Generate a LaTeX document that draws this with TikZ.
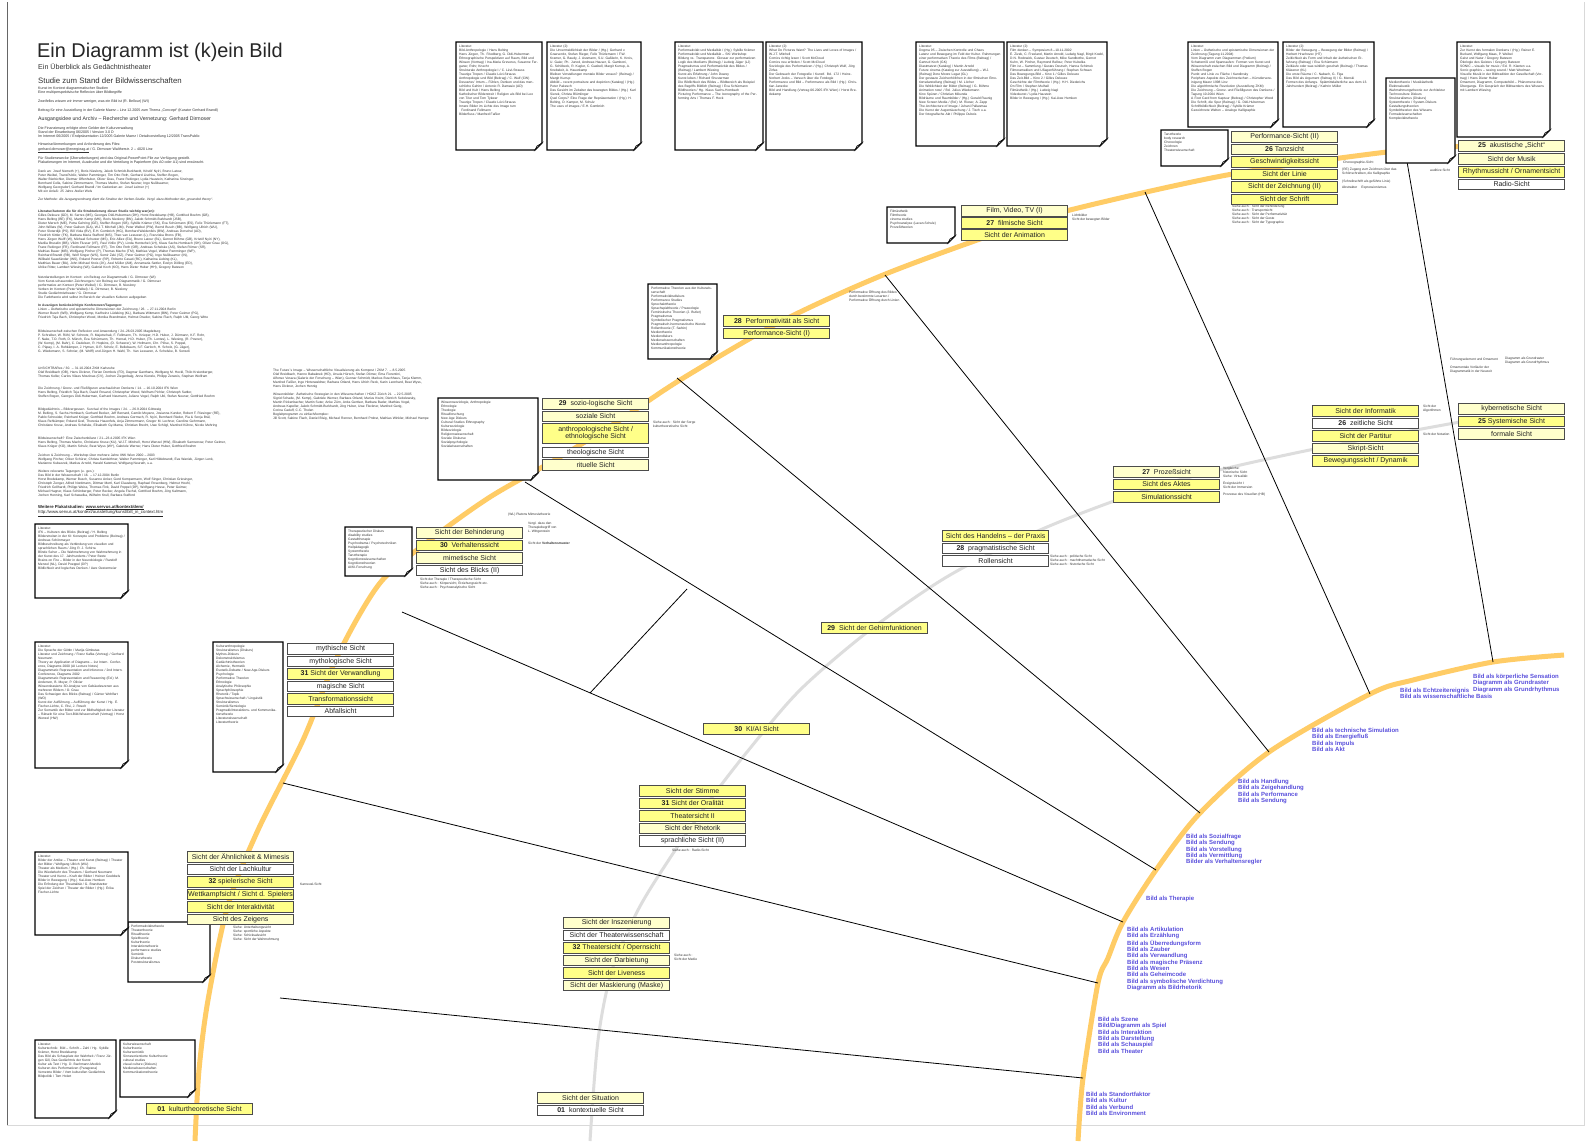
\documentclass[tikz,border=0pt]{standalone}
\usepackage{fontspec}
\setmainfont{Liberation Sans}
\definecolor{ybright}{HTML}{FFFF88}
\definecolor{ypale}{HTML}{FFFFCC}
\definecolor{orarc}{HTML}{FFCC66}
\definecolor{grarc}{HTML}{DDDDDD}
\definecolor{bluelab}{HTML}{5A50DC}
\definecolor{txt}{HTML}{222222}
\tikzset{
  vbox/.style={draw=black!70, line width=1.2pt, minimum width=106pt, minimum height=10.5pt,
    inner sep=0pt, font=\fontsize{7}{7}\selectfont, text=txt, anchor=north west},
  vb/.style={vbox, fill=ybright},
  vp/.style={vbox, fill=ypale},
  vw/.style={vbox, fill=white},
  blab/.style={font=\bfseries\fontsize{6}{6.3}\selectfont, text=bluelab, anchor=north west, inner sep=0pt, align=left},
  spoke/.style={line width=0.8pt, black},
  tiny/.style={font=\fontsize{3.3}{4}\selectfont, text=black!80, anchor=north west, inner sep=0pt, align=left},
  small/.style={font=\fontsize{3.6}{4.3}\selectfont, text=black!80, anchor=base west, inner sep=0pt},
}
\newcommand{\notebox}[6]{% name, x1, y1, x2, y2, text
  \fill[white] (#2,#3) -- (#4,#3) -- (#4,#5-7) -- (#4-7,#5) -- (#2,#5) -- cycle;
  \draw[line width=1.1pt] (#2,#3) -- (#4,#3) -- (#4,#5-7) -- (#4-7,#5) -- (#2,#5) -- cycle;
  \draw[line width=0.6pt, fill=black!15] (#4,#5-7) -- (#4-5,#5-4) -- (#4-7,#5) -- cycle;
  \node[tiny, text width=#4-#2-6] (#1) at (#2+3,#3+3) {#6};
}
\begin{document}
\begin{tikzpicture}[x=1pt,y=-1pt]
\useasboundingbox (0,0) rectangle (1586,1141);
\fill[white] (0,0) rectangle (1586,1141);
% frame
\draw[black!60, line width=0.6pt] (7,2) -- (7,1125);
\draw[black!15, line width=0.6pt] (7,1125) -- (1584,1125) -- (1584,2);

% ---------- arcs ----------
\draw[orarc, line width=5pt] plot[smooth] coordinates {(195,1141) (199,1070) (208,1000) (228,905) (258,830) (303,740) (338,655) (380,583) (430,540) (490,497) (560,457) (620,420) (680,380) (780,322) (883,275) (1000,232) (1070,210) (1227,175) (1387,152) (1470,146)};
\draw[orarc, line width=5pt] plot[smooth] coordinates {(1078,1141) (1083,1078) (1098,983) (1108,958) (1123,922) (1156,870) (1200,813) (1269,752) (1370,694) (1413,680) (1493,662) (1564,655)};
\draw[grarc, line width=3pt] plot[smooth] coordinates {(590,1141) (598,1040) (612,970) (638,910) (670,858) (710,800) (747,752) (800,690) (870,630) (950,575) (1047,527) (1165,484) (1300,452) (1460,422)};

% ---------- spokes ----------
\coordinate (dA) at (590,693);
\coordinate (eA) at (687,589);
\draw[spoke] (1145,192) -- (1370,694);
\draw[spoke] (885,275) -- (1269,752);
\draw[spoke] (1405,150) -- (1493,662);
\draw[spoke] (677,378) -- (1200,813);
\draw[spoke] (525,482) -- (1156,870);
\draw[spoke] (402,612) -- (1123,922);
\draw[spoke] (dA) -- (eA);
\draw[spoke] (283,783) -- (1098,983);
\draw[spoke] (280,998) -- (1083,1078);

% ---------- title block ----------
\node[anchor=north west, inner sep=0pt, font=\fontsize{19.9}{20}\selectfont, text=black!85] (title) at (37,43) {Ein Diagramm ist (k)ein Bild};
\node[anchor=north west, inner sep=0pt, font=\fontsize{7.1}{7}\selectfont, text=black!80] (subtitle) at (38,63) {Ein Überblick als Gedächtnistheater};
\node[anchor=north west, inner sep=0pt, font=\fontsize{7.8}{8}\selectfont, text=black!80] (studie) at (38,78) {Studie zum Stand der Bildwissenschaften};
\node[small] (t1) at (38,89) {Kunst im Kontext diagrammatischer Studien};
\node[small] (t2) at (38,93.5) {Eine multiperspektivische Reflexion über Bildbegriffe};
\node[small] (t3) at (38,102) {Zweifellos wissen wir immer weniger, was ein Bild ist (R. Bellour) (WI)};
\node[small] (t4) at (38,111) {Beitrag für eine Ausstellung in der Galerie Maerz – Linz 12.2005 zum Thema „Concept“ (Kurator Gerhard Brandl)};
\node[anchor=base west, inner sep=0pt, font=\fontsize{5.2}{5}\selectfont, text=black!80] (t5) at (38,120) {Ausgangsidee und Archiv – Recherche und Vernetzung: Gerhard Dirmoser};
\node[small] (t6) at (38,129) {Die Finanzierung erfolgte ohne Gelder der Kulturverwaltung};
\node[small] (t7) at (38,133) {Stand der Einarbeitung 06/2005 / Version 3.0 D};
\node[small] (t8) at (38,137) {Im Internet 06/2005 / Endpräsentation 12/2005 Galerie Maerz / Detailvorstellung 12/2005 TransPublic};
\node[small] (t9) at (38,145) {Hinweise/Anmerkungen und Anforderung des Files:};
\node[small] (t10) at (38,150) {\underline{gerhard.dirmoser@energieag.at} / G. Dirmoser Waltherstr. 2 – 4020 Linz};
\node[small] (t11) at (38,159) {Für Studienzwecke (Überarbeitungen) wird das Original-PowerPoint-File zur Verfügung gestellt.};
\node[small] (t12) at (38,163.5) {Plakatierungen im Internet, Ausdrucke und die Verteilung in Papierform (bis A0 oder A1) sind erwünscht.};
\node[tiny, text width=230pt] (dank) at (38,170) {Dank an: Josef Nemeth (+), Boris Nieslony, Jakob Schmidt-Burkhardt, Kristóf Nyíri, Bruno Latour,\\ Peter Weibel, TransPublic, Walter Pamminger, Tim Otto Roth, Gerhard Lischka, Steffen Bogen,\\ Walter Bierbichler, Dietmar Offenhuber, Oliver Grau, Franz Reitinger, Lydia Haustein, Katharina Sinzinger,\\ Bernhard Cella, Sabine Zimmermann, Thomas Macho, Stefan Neuner, Ingo Nußbaumer,\\ Wolfgang Georgsdorf, Gerhard Brandl / Im Gedenken an: Josef Leitner (+)\\ Mit ein Anlaß: 25 Jahre Atelier Wels};
\node[tiny] (methode) at (38,198) {\itshape Zur Methode: Als Ausgangsordnung dient die Struktur der Verben-Studie. Vergl. dazu Methoden der „grounded theory“.};
\node[tiny, text width=235pt] (lit) at (38,210) {\textbf{Literatur/Autoren die für die Strukturierung dieser Studie wichtig war(en):}\\ Gilles Deleuze (GD), M. Serres (MS), Georges Didi-Huberman (DH), Horst Bredekamp (HB), Gottfried Boehm (GB),\\ Hans Belting (BE) (FK), Martin Kemp (MK), Boris Nieslony (BN), Jakob Schmidt-Burkhardt (JSB),\\ Dieter Mersch (ME), Petra Gehring (GE), Steffen Bogen (SB), Sybille Krämer (SK), Eva Schürmann (ES), Felix Thürlemann (FT),\\ John Willats (W), Peter Galison (GA), W.J.T. Mitchell (JM), Peter Weibel (PW), Bernd Busch (BB), Wolfgang Ullrich (WU),\\ Peter Sloterdijk (PS), Bill Viola (BV), E.H. Gombrich (HG), Bernhard Waldenfels (BW), Andreas Dorschel (AD),\\ Friedrich Kittler (FK), Barbara Maria Stafford (MS), Theo van Leeuwen (L), Franziska Brons (FB),\\ Hans Jürgen Wulff (W), Michael Schuster (MS), Eric Alliez (EA), Bruno Latour (BL), Gernot Böhme (GB), Kristóf Nyíri (NY),\\ Marilia Bruselin (BB), Vilém Flusser (VF), Paul Virilio (PV), Linda Hentschel (LH), Klaus Sachs-Hombach (SH), Oliver Grau (OG),\\ Franz Reitinger (FR), Ferdinand Fellmann (FF), Tim Otto Roth (OR), Andreas Schelske (AS), Stefan Römer (SR),\\ Mathias Bauer (MB), Wolfgang Pircher (P), Thomas Macho (TM), Mathias Vogel, Walter Pamminger (WP),\\ Reinhard Brandt (RB), Wolf Singer (WS), Semir Zeki (SZ), Peter Geimer (PG), Ingo Nußbaumer (IN),\\ Wilibald Sauerländer (WS), Roland Posner (RP), Roberto Casati (RC), Katharina Liebing (KL),\\ Matthias Bauer (BA), John Michael Krois (JK), Axel Müller (AM), Annamaria Sattler, Evelyn Dölling (ED),\\ Ulrike Ritter, Lambert Wiesing (WI), Gabriel Koch (KO), Hans Dieter Huber (HH), Gregory Bateson};
\node[tiny, text width=235pt] (netz) at (38,276) {Netzdarstellungen im Kontext: ein Beitrag zur Diagrammatik / G. Dirmoser (WI)\\ Vom Kunst-schauenden Zeichnungen / ein Beitrag zur Diagrammatik / G. Dirmoser\\ performative art Kontext (Peter Weibel) / G. Dirmoser, B. Nieslony\\ Verben im Kontext (Peter Weibel) / G. Dirmoser, B. Nieslony\\ Studie Gedächtnistheater / G. Dirmoser\\ Die Farbtheorie wird selbst im Bereich der visuellen Kulturen aufgegeben};
\node[tiny, text width=235pt] (konf) at (38,304) {\textbf{In Auszügen berücksichtigte Konferenzen/Tagungen:}\\ Linien – Ästhetische und epistemische Dimensionen der Zeichnung / 26. – 27.11.2004 Berlin\\ Werner Busch (WB), Wolfgang Kemp, Karlheinz Lüdeking (KL), Barbara Wittmann (BW), Peter Geimer (PG),\\ Friedrich Teja Bach, Christopher Wood, Monika Brandmeier, Helmut Draxler, Sabine Flach, Ralph Ubl, Georg Witte};
\node[tiny, text width=235pt] (magd) at (38,330) {Bildwissenschaft zwischen Reflexion und Anwendung / 24.-26.03.2005 Magdeburg\\ P. Schreiber, W. Röhl, W. Schnotz, R. Majetschak, F. Fellmann, Th. Knieper, H.D. Huber, J. Dürmann, K.F. Rohr,\\ F. Nake, T.O. Roth, D. Münch, Eva Schürmann, Th. Hensel, H.D. Huber, (Th. Lentes), L. Wiesing, (R. Posner),\\ (W. Kemp), (M. Bahr), C. Dadelsen, R. Hopkins, (D. Scheerer), W. Hofmann, Chr. Plöse, S. Poppel,\\ C. Pápay, I. A. Rehkämper, J. Hyman, O.R. Scholz, E. Bellebaum, S.F. Gerloch, H. Scholz, (G. Jäger),\\ G. Wiedemann, S. Schnier, (M. Wolff) und Jürgen H. Wahl, Th. Van Leeuwen, A. Schelske, B. Sensoli};
\node[tiny, text width=235pt] (unsicht) at (38,367) {UnSICHTBARes / 30. – 31.10.2004 ZKM Karlsruhe\\ Olaf Breidbach (OB), Hans Dickner, Florian Dombois (FD), Dagmar Ganthans, Wolfgang M. Heckl, Thilo Kreienberger,\\ Thomas Keller, Carlos Vilaes Moutinas (CV), Jochen Ziegenbalg, Anna Kienzle, Philipp Zerweis, Stephan Wolfram};
\node[tiny, text width=235pt] (zeich) at (38,387) {Die Zeichnung / Grenz- und Fließfiguren anschaulichen Denkens / 14. – 16.10.2004 IFK Wien\\ Hans Belting, Friedrich Teja Bach, David Rosand, Christopher Wood, Wolfram Pichler, Christoph Sattler,\\ Steffen Bogen, Georges Didi-Huberman, Gerhard Neumann, Juliane Vogel, Ralph Ubl, Stefan Neuner, Gottfried Boehm};
\node[tiny, text width=235pt] (gedae) at (38,408) {Bildgedächtnis – Bildvergessen. Survival of the Images / 24. – 26.9.2004 Göttweig\\ M. Belting, S. Sachs-Hombach, Gerhard Becker, Jeff Bernard, Camilo Moyano, Josianna Kunder, Robert F. Riesinger (RE),\\ Pablo Schneider, Reinhard Krüger, Gottfried Boehm, Andreas Gormsch, R. Nyíri, Bernhard Rieder, Pia \& Sonja Bräl,\\ Klaus Rehkämper, Roland Graf, Theresia Hauenfels, Anja Zimmermann, Gregor M. Lechner, Caroline Gehrmann,\\ Christiane Kruse, Andreas Schelske, Elisabeth Gy-Mama, Christian Brecht, Uwe Schögl, Manfred Kühne, Nicole Mehring};
\node[tiny, text width=235pt] (zwisch) at (38,437) {Bildwissenschaft? Eine Zwischenbilanz / 21.–23.4.2005 IFK Wien\\ Hans Belting, Thomas Macho, Christiane Kruse (KU), W.J.T. Mitchell, Horst Wenzel (HW), Elisabeth Samsonow, Peter Geimer,\\ Klaus Krüger (KO), Martin Schulz, Beat Wyss (WY), Gabriele Werner, Hans Dieter Huber, Gottfried Boehm};
\node[tiny, text width=235pt] (iwk) at (38,454) {Zeichen \& Zeichnung – Workshop über mehrere Jahre IWK Wien 2000 – 2003\\ Wolfgang Pircher, Oliver Schürer, Christa Kamleithner, Walter Pamminger, Karl Hildebrandt, Eva Waniek, Jürgen Lenk,\\ Marianne Kubaczek, Markus Arnold, Harald Katzmair, Wolfgang Neurath, u.a.};
\node[tiny, text width=235pt] (weit) at (38,470) {Weitere relevante Tagungen (u. ges.):\\ Das Bild in der Wissenschaft / 16. – 17.12.2004 Berlin\\ Horst Bredekamp, Werner Busch, Susanne Anker, Gerd Kempermann, Wolf Singer, Christian Griesinger,\\ Christoph Zenger, Alfred Nordmann, Dittmar Mertl, Karl Clausberg, Raphael Rosenberg, Helmut Hoehl,\\ Friedrich Gollhardt, Philipp Weiss, Thomas Fink, David Poppel (DP), Wolfgang Hesse, Peter Geimer,\\ Michael Hagner, Klaus Schönberger, Peter Becker, Angela Fischel, Gottfried Boehm, Jörg Kaltmann,\\ Jochen Henning, Karl Schawelka, Wilhelm Krull, Barbara Stafford};
\node[anchor=base west, inner sep=0pt, font=\bfseries\fontsize{4.3}{5}\selectfont, text=black!85] (plak) at (38,508) {Weitere Plakatstudien: \underline{www.servus.at/kontext/dem/}};
\node[anchor=base west, inner sep=0pt, font=\fontsize{4.3}{5}\selectfont, text=black!85] (plak2) at (38,513.5) {\underline{http://www.servus.at/kontext/ausstellung/kunst/bilt\_in\_context.htm}};
\node[tiny, text width=200pt] (fut) at (273,369) {The Future´s Image – Wissenschaftliche Visualisierung als Kompost / ZKM 7. – 8.5.2005\\ Olaf Breidbach, Hanno Babaknek (HD), Ursula Hürsch, Stefan Dörner, Ema Fiorentini,\\ Alfonso Veraza (Galerie der Forschung – Wien), Gunnar Schmidt, Markus Buschhaus, Tanja Klemm,\\ Manfred Faßler, Inge Hinterwaldner, Barbara Orland, Hans Ulrich Reck, Karin Leonhard, Beat Wyss,\\ Hans Dickner, Jochen Hennig};
\node[tiny, text width=200pt] (wiss) at (273,393) {Wissensbilder: Ästhetische Strategien in den Wissenschaften / HGKZ Zürich 21. – 22.5.2005\\ Sigrid Schade, (M. Kemp), Gabriele Werner, Barbara Orland, Marius Kwint, Dietrich Seitelewsky,\\ Martin Rickenbacher, Martin Suter, Anke Zürn, Anita Gertiser, Barbara Bader, Mathias Vogel,\\ Andreas Kapeller, Jakob Schmidt-Burkhardt, Jörg Huber, Uwe Fleckner, Manfred Gerig,\\ Corina Caduff, C.C. Thelen\\ Begleitprogramm zu einfach/komplex:\\ Jill Scott, Sabine Flach, Daniel Bisig, Michael Renner, Bernhard Probst, Mathias Winkler, Michael Hampe};

% ---------- small labels in the fan ----------
\node[tiny] (r1) at (1232,205) {Siehe auch : Sicht der Behinderung\\ Siehe auch : Transportsicht\\ Siehe auch : Sicht der Performativität\\ Siehe auch : Sicht der Geste\\ Siehe auch : Sicht der Typographie};
\node[tiny] (r2) at (1343,161) {Choreographie-Sicht};
\node[tiny] (r3) at (1342,168) {(RE) Zugang zum Zeichnen über das\\ Schönschreiben, die Kalligraphie};
\node[tiny] (r4) at (1342,180) {(Schreibschrift als geführte Linie)};
\node[tiny] (r5) at (1342,186) {Abstrakter \quad Expressionismus};
\node[tiny] (r6) at (1430,169) {auditive Sicht};
\node[tiny] (r7) at (1423,405) {Sicht der\\ Algorithmen};
\node[tiny] (r8) at (1423,433) {Sicht der Notation};
\node[tiny] (r9) at (1450,358) {Führungselement und Ornament};
\node[tiny] (r10) at (1450,366) {Ornamentale Vorläufer der\\ Diagrammatik in der Neuzeit};
\node[tiny] (r11) at (1505,357) {Diagramm als Grundraster\\ Diagramm als Grundrhythmus};
\node[tiny] (r12) at (1223,467) {Vergleiche:\\ historische Sicht\\ Siehe: Virtualität};
\node[tiny] (r13) at (1223,482) {Ereignissicht I\\ Sicht der Immersion};
\node[tiny] (r14) at (1223,493) {Prozesse des Visuellen (HB)};
\node[tiny] (r15) at (1050,555) {Siehe auch : politische Sicht\\ Siehe auch : machtthematische Sicht\\ Siehe auch : historische Sicht};
\node[tiny] (r16) at (1072,214) {Lichtbilder\\ Sicht der bewegten Bilder};
\node[tiny] (r17) at (420,578) {Sicht der Therapie / Therapeutische Sicht\\ Siehe auch : Körpersicht, Erziehungssicht etc.\\ Siehe auch : Psychoanalytische Sicht};
\node[tiny] (r18) at (508,513) {(WL) Platons Mimesistheorie};
\node[tiny] (r19) at (528,522) {Vergl. dazu den\\ Therapiebegriff von\\ L. Wittgenstein};
\node[tiny] (r20) at (528,542) {Sicht der \textbf{Verhaltensmuster}};
\node[tiny] (r21) at (653,421) {Siehe auch : Sicht der Sorge\\ kulturtheoretische Sicht};
\node[tiny] (r22) at (849,291) {Performative Öffnung des Bildes\\ durch bestimmte Lesarten /\\ Performative Öffnung durch Linien};
\node[tiny] (r23) at (233,926) {Siehe: Unterhaltungssicht\\ Siehe: sportliche Aspekte\\ Siehe: Schicksalssicht\\ Siehe: Sicht der Wahrnehmung};
\node[tiny] (r24) at (300,883) {Karneval-Sicht};
\node[tiny] (r25) at (672,849) {Siehe auch : Radio-Sicht};
\node[tiny] (r26) at (674,954) {Siehe auch :\\ Sicht der Medie};

% ---------- literature notes, top row ----------
\notebox{litA}{456}{42}{542}{150}{Literatur:\\ Bild-Anthropologie / Hans Belting\\ Hans Jürgen, Th. Friedberg, G. Didi-Huberman\\ Ethnographische Perspektiven auf Raum, Bild und Wissen (Vortrag) / Ina-Maria Greverus, Susanne Ferganer, Rohr, Knecht\\ Strukturale Anthropologie I / C. Lévi-Strauss\\ Traurige Tropen / Claude Lévi-Strauss\\ Anthropologie und Bild (Beitrag) / C. Wulf (CW)\\ Descartes' Irrtum – Fühlen, Denken und das menschliche Gehirn / Antonio R. Damasio (AD)\\ Bild und Kult / Hans Belting\\ Katholischer Bilderstreit / Religion als Bild bei Leo von Trier und Tom Tykwer\\ Traurige Tropen / Claude Lévi-Strauss\\ Innere Bilder im Lichte des Image turn\\ \ \ Ferdinand Fellmann\\ Bilderfluss / Manfred Faßler}
\notebox{litB}{547}{42}{641}{150}{Literatur (2):\\ Die Unvermeidlichkeit der Bilder / (Hg.) Gerhard v. Graevenitz, Stefan Rieger, Felix Thürlemann / F.W. Kramer, G. Baudy, J. Assmann, S.U. Gaßlerin, K. Krois, U. Gaier, Ph. Junod, Andreas Hauser, G. Gamboni, G. Schöbeck, R. Kugler, C. Gasbell, Margit Kurrup, A. Knebeleit, A. Hauerkamp\\ Bleiben Vorstellungen mentale Bilder voraus? (Beitrag) / Margit Kurrup\\ Abbild – recent portraiture and depiction (Katalog) / (Hg.) Peter Pakesch\\ Das Gesicht im Zeitalter des bewegten Bildes / (Hg.) Karl Sierek, Christa Blümlinger\\ Quel Corps? Eine Frage der Repräsentation / (Hg.) H. Belting, D. Kamper, M. Schulz\\ The uses of images / E.H. Gombrich}
\notebox{litC}{675}{42}{763}{150}{Literatur:\\ Performativität und Medialität / (Hg.) Sybille Krämer\\ Performativität und Medialität – SKI Workshop\\ Bildung vs. Transparenz. Glossar zur performativen Logik des Mediums (Beitrag) / Ludwig Jäger (LJ)\\ Pragmatismus und Performativität des Bildes / (Beitrag) / Lambert Wiesing\\ Kunst als Erfahrung / John Dewey\\ Kunst leben / Richard Shusterman\\ Die Bildlichkeit des Bildes – Bildbereich als Beispiel des Begriffs Bildlich (Beitrag) / Eva Schürmann\\ Bildtheorien / Hg. Klaus Sachs-Hombach\\ Picturing Performance – The Iconography of the Performing Arts / Thomas F. Heck}
\notebox{litD}{766}{42}{862}{150}{Literatur (2):\\ What Do Pictures Want? The Lives and Loves of Images / W.J.T. Mitchell\\ Comics richtig lesen / Scott McCloud\\ Comics neu erfinden / Scott McCloud\\ Soziologie des Performativen / (Hg.) Christoph Wulf, Jörg Zirfas\\ Der Gebrauch der Fotografie / Kunstf. Bd. 172 / Heinz-Norbert Jocks – Versuch über die Fotologie\\ Performance und Bild – Performance als Bild / (Hg.) Christian Janecke\\ Bild und Handlung (Vortrag 06.2005 IFK Wien) / Horst Bredekamp}
\notebox{litE}{916}{42}{1004}{146}{Literatur:\\ Dogma 95 – Zwischen Kontrolle und Chaos\\ Latenz und Bewegung im Feld der Kultur. Rahmungen einer performativen Theorie des Films (Beitrag) / Gertrud Koch (GK)\\ Diastmatzet (Katalog) / Martin Arnold\\ Future cinema (Katalog zur Ausstellung) – W.J. (Beitrag) Dore Moore Legat (GL)\\ Der gestaute Zeichenhöfchen in der filmischen Emotionsdarstellung (Beitrag) / M. Löcher\\ Die Wirklichkeit der Bilder (Beitrag) / G. Böhme\\ Animation now! / Bd. Julius Wiedemann\\ Kino Spüren / Christian Mikunda\\ Bildräume und Raumbilder / (Hg.) Gerald Raunig\\ New Screen Media / (Bd.) M. Rieser, A. Zapp\\ The Architecture of Image / Juhani Pallasmaa\\ Die Kunst der Augentäuschung / J. Tisch u.a.\\ Der fotografische Akt / Philippe Dubois}
\notebox{litF}{1007}{42}{1107}{146}{Literatur (2):\\ Film denken – Symposium 8.–10.11.2002\\ E. Zizek, C. Freeland, Martin Arnold, Ludwig Nagl, Birgit Koebl, D.N. Rodowick, Gustav Deutsch, Mike Sandbothe, Gernot Kuhn, W. Pircher, Raymond Bellour, Peter Kubelka\\ Film ist – Sammlung / Gustav Deutsch, Hanna Schimek\\ Filmoramatiken und Ußagenführung / Stephan Schwan\\ Das Bewegungs-Bild – Kino 1 / Gilles Deleuze\\ Das Zeit-Bild – Kino 2 / Gilles Deleuze\\ Geschichte der Filmtheorie / (Hg.) H.H. Diederichs\\ On Film / Stephen Mulhall\\ Filmästhetik / (Hg.) Ludwig Nagl\\ Videokunst / Lydia Haustein\\ Bilder in Bewegung / (Hg.) Kai-Uwe Hemken}
\notebox{litG}{1188}{42}{1278}{127}{Literatur:\\ Linien – Ästhetische und epistemische Dimensionen der Zeichnung (Tagung 11.2004)\\ Vom Diagramm zum Diagrammen (Podium)\\ Schattenriß und Spannaufen: Formen von Kunst und Wissenschaft zwischen Bild und Diagramm (Beitrag) / Steffen Bogen\\ Punkt und Linie zu Fläche / Kandinsky\\ Periphere Aspekte des Zeichnerischen – Künstlervereinigung Maerz 1998 Linz\\ Die algorithmische Revolution (Ausstellung ZKM)\\ Die Zeichnung – Grenz- und Fließfiguren des Denkens / Tagung 10.2004 Wien\\ A Foot Card from Kaptuur (Beitrag) / Christopher Wood\\ Die Schrift, die Spur (Beitrag) / G. Didi-Huberman\\ Schriftbildlichkeit (Beitrag) / Sybille Krämer\\ Gezeichnete Welten – Analoge Kalligraphie}
\notebox{litH}{1283}{42}{1374}{127}{Literatur (2):\\ Bilder der Bewegung – Bewegung der Bilder (Beitrag) / Herbert Hrachovec (HT)\\ Zeitlichkeit als Form und Inhalt der ästhetischen Erfahrung (Beitrag) / Eva Schürmann\\ Zeitläufe oder was wirklich geschah (Beitrag) / Thomas Kläsener (KL)\\ Die erste Räume / C. Nabach, G. Figa\\ Das Bild als Argument (Beitrag II) / G. Menski\\ Formen des Anfangs. Spätmittelalterliche aus dem 13. Jahrhundert (Beitrag) / Kathrin Müller}
\notebox{litI}{1457}{42}{1550}{137}{Literatur:\\ Zur Kunst des formalen Denkens / (Hg.) Rainer E. Burkard, Wolfgang Maas, P. Weibel\\ Geist und Natur / Gregory Bateson\\ Ökologie des Geistes / Gregory Bateson\\ SONIC – visuals for music / Ed. R. Klanten u.a.\\ Sonic graphics – seeing sound / Matt Woolman\\ Visuelle Musik in der Bildtradition der Gesellschaft (Vortrag) / Hans Dieter Huber\\ Ornament, Diagramm, Computerbild – Phänomene des Übergangs. Ein Gespräch der Bildwerdens des Wissens mit Lambert Wiesing}

% ---------- discipline notes ----------
\notebox{nTanz}{1161}{130}{1228}{166}{Tanztheorie\\ body research\\ Choreologie\\ Zeichnen\\ Theaterwissenschaft}
\notebox{nAkust}{1386}{78}{1455}{163}{Medientheorie / Musikästhetik\\ Elektroakustik\\ Wahrnehmungstheorie zur Architektur\\ Technoculture Diskurs\\ Strukturalismus (Diskurs)\\ Systemtheorie / System-Diskurs\\ Gestaltungstheorien\\ Symboltheorien des Wissens\\ Formalwissenschaften\\ Komplexitätstheorie}
\notebox{nFilm}{887}{207}{955}{243}{Filmästhetik\\ Filmtheorie\\ cinema studies\\ Psychoanalyse (Lacan-Schule)\\ Prozeßtheorien}
\notebox{nPerf}{648}{284}{717}{359}{Performative Theorien aus der Kulturwissenschaft\\ Performativitätsdiskurs\\ Performance Studies\\ Sprechakttheorie\\ Sprachspieltheorie / Praxeologie\\ Feministische Theorien (J. Butler)\\ Pragmatismus\\ Symbolischer Pragmatismus\\ Pragmatisch-hermeneutische Wende\\ Rollentheorie (T. Sarbin)\\ Medientheorie\\ Mediendiskurs\\ Medienwissenschaften\\ Medienanthropologie\\ Kommunikationstheorie}
\notebox{nSozio}{438}{398}{538}{480}{Wissenssoziologie, Anthropologie\\ Ethnologie\\ Theologie\\ Ritualforschung\\ New Age Diskurs\\ Cultural Studies Ethnography\\ Kultursoziologie\\ Bildsoziologie\\ Religionswissenschaft\\ Soziale Diskurse\\ Sozialpsychologie\\ Sozialwissenschaften}
\notebox{nBehind}{345}{527}{412}{576}{Therapeutischer Diskurs\\ disability studies\\ Gestalttherapie\\ Psychodrama / Psychotechniken\\ Heilpädagogik\\ Systemtheorie\\ Tanztherapie\\ Kognitionswissenschaften\\ Kognitionstheorien\\ AI/KI-Forschung}
\notebox{nMyth}{213}{642}{283}{772}{Kulturanthropologie\\ Strukturalismus (Diskurs)\\ Mythos-Diskurs\\ Dekonstruktivismus\\ Gedächtnistheorien\\ Alchemie, Hermetik\\ Esoterik-Debatte / New-Age-Diskurs\\ Psychologie\\ Performative Theorien\\ Ethnologie\\ Analytische Philosophie\\ Sprachphilosophie\\ Rhetorik / Topik\\ Sprachwissenschaft / Linguistik\\ Strukturalismus\\ Semiotik/Semiologie\\ Pragmatik/Interaktions- und Kommunikationstheorie\\ Literaturwissenschaft\\ Literaturtheorie}
\notebox{nAehn}{128}{922}{210}{982}{Performativitätstheorie\\ Theatertheorie\\ Ritualtheorie\\ Spieltheorie\\ Kulturtheorie\\ Interaktionstheorie\\ performance studies\\ Semiotik\\ Diskurstheorie\\ Poststrukturalismus}
\notebox{nKult}{120}{1040}{195}{1097}{Kulturwissenschaft\\ Kulturtheorie\\ Kultursemiotik\\ Sinnesorientierte Kulturtheorie\\ cultural studies\\ visual culture (Diskurs)\\ Medienwissenschaften\\ Kommunikationstheorie}

% ---------- literature notes, left column ----------
\notebox{litL1}{35}{524}{128}{598}{Literatur:\\ IFK – Kulturen des Blicks (Beitrag) / H. Belting\\ Bilderstreiten in der KI: Konzepte und Probleme (Beitrag) / Andreas Schönmayer\\ Bildbeschreibung als Verbindung von visuellen und sprachlichen Raum / Jörg R. J. Schirra\\ Blinde Seher – Die Wahrnehmung von Wahrnehmung in der Kunst des 17. Jahrhunderts / Peter Bexte\\ Brains on Fire – Bilder in der Neurobiologie / Randolf Menzel (NL), David Poeppel (DP)\\ Bildlichkeit und logisches Denken / Uwe Oestermeier}
\notebox{litL2}{35}{642}{128}{768}{Literatur:\\ Die Sprache der Göttin / Marija Gimbutas\\ Literatur und Zeichnung / Franz Kafka (Vortrag) / Gerhard Neumann\\ Theory an Application of Diagrams – 1st Intern. Conference, Diagrams 2000 (AI Lecture Notes)\\ Diagrammatic Representation and Inference / 2nd Intern. Conference, Diagrams 2002\\ Diagrammatic Representation and Reasoning (Ed.) M. Anderson, B. Meyer, P. Olivier\\ Wissensbasierte 3D-Analyse von Gebäudeszenen aus mehreren Bildern / O. Grau\\ Das Schweigen des Blicks (Beitrag) / Günter Wohlfart (WO)\\ Kunst der Aufführung – Aufführung der Kunst / Hg. E. Fischer-Lichte, C. Risi, J. Roselt\\ Zur Semantik der Bilder und zur Bildhaftigkeit der Literatur – Rätseln für eine Text-Bild-Wissenschaft (Vortrag) / Horst Wenzel (HW)}
\notebox{litL3}{35}{852}{128}{935}{Literatur:\\ Bilder der Antike – Theater und Kunst (Beitrag) / Theater der Bilder / Wolfgang Ullrich (WU)\\ Theater als Medium / (Hg.) Ch. Balme\\ Die Wiederkehr des Theaters / Gerhard Neumann\\ Theater und Kunst – Kraft der Bilder / Heiner Goebbels\\ Bilder in Bewegung / (Hg.) Kai-Uwe Hemken\\ Die Erfindung der Theatralität / G. Brandstetter\\ Spiel der Zeichen / Theater der Bilder / (Hg.) Erika Fischer-Lichte}
\notebox{litL4}{35}{1040}{116}{1118}{Literatur:\\ Kulturtechnik: Bild – Schrift – Zahl / Hg. Sybille Krämer, Horst Bredekamp\\ Das Bild als Schauplatz der Wahrheit / Franz Jürgen Gill, Das Gedächtnis der Kunst\\ Kultur als Text / Hg. D. Bachmann-Medick\\ Kulturen des Performativen (Paragrana)\\ Vernetzte Bilder / Vom kulturellen Gedächtnis\\ Bildpolitik / Tom Holert}

% ---------- view stacks ----------
\node[vp] (s25a) at (1458,140) {\textbf{25}\ \ akustische „Sicht“};
\node[vp] (s25b) at (1458,153) {Sicht der Musik};
\node[vb] (s25c) at (1458,166) {Rhythmussicht / Ornamentsicht};
\node[vw] (s25d) at (1458,178.5) {Radio-Sicht};
\node[vp] (s26a) at (1231,131) {Performance-Sicht (II)};
\node[vp] (s26b) at (1231,143.5) {\textbf{26}\ Tanzsicht};
\node[vb] (s26c) at (1231,156) {Geschwindigkeitssicht};
\node[vb] (s26d) at (1231,168.5) {Sicht der Linie};
\node[vb] (s26e) at (1231,181) {Sicht der Zeichnung (II)};
\node[vb] (s26f) at (1231,193.5) {Sicht der Schrift};
\node[vp] (s27a) at (961,205) {Film, Video, TV (I)};
\node[vb] (s27b) at (961,217) {\textbf{27}\ \ filmische Sicht};
\node[vb] (s27c) at (961,229) {Sicht der Animation};
\node[vb] (s28a) at (723,315) {\textbf{28}\ \ Performativität als Sicht};
\node[vb] (s28b) at (723,327.5) {Performance-Sicht (I)};
\node[vp] (s29a) at (542,398) {\textbf{29}\ \ sozio-logische Sicht};
\node[vp] (s29b) at (542,410.5) {soziale Sicht};
\node[vb, minimum height=20pt, align=center] (s29c) at (542,423) {anthropologische Sicht /\\ethnologische Sicht};
\node[vw] (s29d) at (542,446.5) {theologische Sicht};
\node[vp] (s29e) at (542,459) {rituelle Sicht};
\node[vp] (s30a) at (416,527) {Sicht der Behinderung};
\node[vb] (s30b) at (416,539.5) {\textbf{30}\ \ Verhaltenssicht};
\node[vp] (s30c) at (416,552) {mimetische Sicht};
\node[vw] (s30d) at (416,564.5) {Sicht des Blicks (II)};
\node[vw] (s31a) at (287,643) {mythische Sicht};
\node[vw] (s31b) at (287,655.5) {mythologische Sicht};
\node[vb] (s31c) at (287,668) {\textbf{31} Sicht der Verwandlung};
\node[vw] (s31d) at (287,680.5) {magische Sicht};
\node[vb] (s31e) at (287,693) {Transformationssicht};
\node[vw] (s31f) at (287,705.5) {Abfallsicht};
\node[vp] (s32a) at (187,851) {Sicht der Ähnlichkeit \& Mimesis};
\node[vw] (s32b) at (187,863.5) {Sicht der Lachkultur};
\node[vb] (s32c) at (187,876) {\textbf{32} spielerische Sicht};
\node[vb] (s32d) at (187,888.5) {Wettkampfsicht / Sicht d. Spielers};
\node[vb] (s32e) at (187,901) {Sicht der Interaktivität};
\node[vp] (s32f) at (187,913.5) {Sicht des Zeigens};
\node[vb] (s01a) at (146,1103) {\textbf{01}\ \ kulturtheoretische Sicht};
\node[vp] (s01b) at (537,1092) {Sicht der Situation};
\node[vw] (s01c) at (537,1104.5) {\textbf{01}\ \ kontextuelle Sicht};
\node[vp] (s32Ta) at (563,917) {Sicht der Inszenierung};
\node[vw] (s32Tb) at (563,929.5) {Sicht der Theaterwissenschaft};
\node[vb] (s32Tc) at (563,942) {\textbf{32}\ Theatersicht / Opernsicht};
\node[vp] (s32Td) at (563,954.5) {Sicht der Darbietung};
\node[vb] (s32Te) at (563,967) {Sicht der Liveness};
\node[vp] (s32Tf) at (563,979.5) {Sicht der Maskierung (Maske)};
\node[vb] (s31Oa) at (639,785) {Sicht der Stimme};
\node[vb] (s31Ob) at (639,797.5) {\textbf{31} Sicht der Oralität};
\node[vb] (s31Oc) at (639,810) {Theatersicht II};
\node[vp] (s31Od) at (639,822.5) {Sicht der Rhetorik};
\node[vw] (s31Oe) at (639,835) {sprachliche Sicht (II)};
\node[vb] (s30K) at (703,723) {\textbf{30}\ \ KI/AI Sicht};
\node[vb] (s29G) at (821,622) {\textbf{29}\ \ Sicht der Gehirnfunktionen};
\node[vb] (s28Pa) at (942,530) {Sicht des Handelns – der Praxis};
\node[vw] (s28Pb) at (942,542.5) {\textbf{28}\ \ pragmatistische Sicht};
\node[vw] (s28Pc) at (942,555) {Rollensicht};
\node[vp] (s27Pa) at (1113,466) {\textbf{27}\ \ Prozeßsicht};
\node[vb] (s27Pb) at (1113,478.5) {Sicht des Aktes};
\node[vb] (s27Pc) at (1113,491) {Simulationssicht};
\node[vb] (s26Za) at (1312,405) {Sicht der Informatik};
\node[vw] (s26Zb) at (1312,417.5) {\textbf{26}\ \ zeitliche Sicht};
\node[vb] (s26Zc) at (1312,430) {Sicht der Partitur};
\node[vp] (s26Zd) at (1312,442.5) {Skript-Sicht};
\node[vb] (s26Ze) at (1312,455) {Bewegungssicht / Dynamik};
\node[vp] (s25Sa) at (1458,403) {kybernetische Sicht};
\node[vb] (s25Sb) at (1458,415.5) {\textbf{25}\ Systemische Sicht};
\node[vp] (s25Sc) at (1458,428) {formale Sicht};

% ---------- blue labels ----------
\node[blab] (b1) at (1473,674) {Bild als körperliche Sensation\\ Diagramm als Grundraster\\ Diagramm als Grundrhythmus};
\node[blab] (b2) at (1400,688) {Bild als Echtzeitereignis\\ Bild als wissenschaftliche Basis};
\node[blab] (b3) at (1312,728) {Bild als technische Simulation\\ Bild als Energiefluß\\ Bild als Impuls\\ Bild als Akt};
\node[blab] (b4) at (1238,779) {Bild als Handlung\\ Bild als Zeigehandlung\\ Bild als Performance\\ Bild als Sendung};
\node[blab] (b5) at (1186,834) {Bild als Sozialfrage\\ Bild als Sendung\\ Bild als Vorstellung\\ Bild als Vermittlung\\ Bilder als Verhaltensregler};
\node[blab] (b6) at (1146,896) {Bild als Therapie};
\node[blab] (b7) at (1127,927) {Bild als Artikulation\\ Bild als Erzählung\\ Bild als Überredungsform\\ Bild als Zauber\\ Bild als Verwandlung\\ Bild als magische Präsenz\\ Bild als Wesen\\ Bild als Geheimcode\\ Bild als symbolische Verdichtung\\ Diagramm als Bildrhetorik};
\node[blab] (b8) at (1098,1017) {Bild als Szene\\ Bild/Diagramm als Spiel\\ Bild als Interaktion\\ Bild als Darstellung\\ Bild als Schauspiel\\ Bild als Theater};
\node[blab] (b9) at (1086,1092) {Bild als Standortfaktor\\ Bild als Kultur\\ Bild als Verbund\\ Bild als Environment};
\end{tikzpicture}
\end{document}
